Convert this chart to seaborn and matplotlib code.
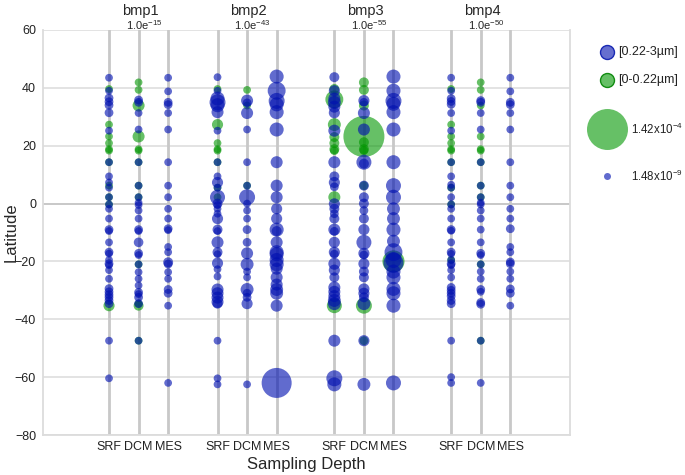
import numpy as np
import pandas as pd
import matplotlib
matplotlib.use("Agg")
import matplotlib.pyplot as plt
from matplotlib.colors import LogNorm
import seaborn as sns

# ---------------- data ----------------
panels = ["bmp1", "bmp2", "bmp3", "bmp4"]
p_exponents = [-15, -43, -55, -50]
depths = ["SRF", "DCM", "MES"]
fractions = ["[0.22-3µm]", "[0-0.22µm]"]
UNIT = 1e-9                       # abundances below are given in units of 1e-9
legend_values = [1.42e-4, 1.48e-9]
y_ticks = [60, 40, 20, 0, -20, -40, -60, -80]

bmp1_blue = {
    "SRF": [(43.5, 1.6), (39.0, 1.6), (36.5, 1.8), (35.2, 1.8), (34.0, 1.8), (31.4, 1.8), (25.2, 1.6),
            (14.3, 1.6), (9.4, 1.6), (7.3, 1.6), (5.5, 1.6), (2.2, 1.6), (-0.3, 1.6), (-1.8, 1.6),
            (-5.2, 1.6), (-9.0, 1.8), (-9.5, 1.6), (-13.4, 1.6), (-16.8, 1.8), (-17.3, 1.6), (-19.5, 1.6),
            (-20.8, 1.8), (-21.3, 1.6), (-23.0, 1.6), (-26.0, 1.6), (-29.4, 1.8), (-30.5, 1.8), (-31.5, 1.8),
            (-32.4, 1.8), (-33.5, 1.8), (-34.6, 1.8), (-47.4, 1.6), (-60.4, 1.6)],
    "DCM": [(35.8, 1.8), (35.0, 1.8), (31.3, 1.6), (25.6, 1.6), (14.3, 1.6), (6.2, 1.6), (2.2, 1.6),
            (0.3, 1.6), (-0.5, 1.6), (-2.4, 1.6), (-5.2, 1.6), (-9.0, 1.8), (-9.5, 1.6), (-13.4, 2.0),
            (-17.2, 1.8), (-17.8, 1.6), (-21.0, 1.6), (-23.7, 1.6), (-26.0, 1.6), (-28.3, 1.6), (-30.7, 1.8),
            (-31.3, 1.6), (-32.4, 1.8), (-34.6, 1.8), (-47.4, 1.6)],
    "MES": [(43.5, 1.6), (38.8, 1.6), (35.0, 1.8), (34.2, 1.8), (31.3, 1.6), (25.6, 1.6), (14.3, 1.6),
            (6.2, 1.6), (2.2, 1.6), (-1.8, 1.6), (-5.2, 1.6), (-8.7, 1.8), (-9.2, 1.6), (-15.0, 1.6),
            (-16.8, 1.6), (-20.3, 2.1), (-20.9, 1.8), (-23.7, 1.6), (-26.0, 1.6), (-29.7, 1.8), (-31.0, 1.8),
            (-35.3, 1.6), (-62.0, 1.6)],
}
bmp1_green = {
    "SRF": [(39.6, 1.6), (27.3, 1.6), (23.2, 1.6), (20.9, 1.6), (18.8, 1.6), (18.3, 1.6), (14.3, 1.6),
            (6.2, 1.6), (2.2, 1.6), (-0.3, 1.6), (-35.3, 2.5)],
    "DCM": [(41.9, 1.6), (39.3, 1.6), (33.9, 2.9), (23.2, 2.9), (18.8, 1.6), (18.3, 1.6), (14.3, 1.6),
            (6.2, 1.6), (2.2, 1.6), (-21.0, 1.6), (-34.6, 1.6), (-35.3, 2.1), (-47.4, 1.6)],
    "MES": [],
}

bmp2_blue = {
    "SRF": [(43.7, 1.6), (39.0, 1.6), (36.3, 4.2), (35.0, 6.3), (34.0, 4.2), (31.6, 2.9), (25.2, 1.6),
            (14.3, 1.6), (9.4, 1.6), (7.3, 2.5), (5.5, 1.6), (2.2, 5.1), (0.0, 2.1), (-0.5, 1.6), (-1.8, 1.6),
            (-3.5, 1.6), (-5.2, 2.5), (-9.0, 2.1), (-9.5, 1.6), (-13.4, 2.9), (-16.8, 2.1), (-17.5, 1.6),
            (-20.6, 2.5), (-22.7, 1.6), (-25.2, 1.6), (-29.7, 2.9), (-31.0, 2.9), (-32.5, 2.9), (-34.0, 2.9),
            (-34.6, 2.1), (-47.4, 1.6), (-60.4, 1.6), (-62.5, 1.6)],
    "DCM": [(35.6, 2.9), (34.8, 1.8), (31.3, 2.9), (25.6, 1.6), (14.3, 1.6), (6.2, 1.6), (2.2, 6.3),
            (0.0, 1.6), (-2.4, 1.6), (-5.2, 1.6), (-9.0, 1.8), (-13.4, 1.8), (-17.2, 2.9), (-21.0, 3.4),
            (-23.5, 1.6), (-25.5, 1.6), (-29.7, 3.4), (-31.0, 1.8), (-32.4, 1.8), (-34.6, 2.5), (-62.5, 1.6)],
    "MES": [(43.9, 4.2), (39.0, 10.0), (35.5, 6.3), (34.3, 4.2), (31.6, 4.2), (25.6, 4.2), (14.3, 2.9),
            (6.2, 2.9), (2.2, 2.9), (-1.8, 2.5), (-5.2, 2.5), (-9.0, 4.2), (-9.5, 2.1), (-13.4, 2.9),
            (-16.8, 4.2), (-17.5, 4.2), (-19.5, 4.2), (-21.0, 4.2), (-22.5, 2.9), (-25.5, 2.9), (-28.0, 2.9),
            (-29.7, 3.4), (-31.0, 3.4), (-35.3, 2.9), (-62.0, 590.0)],
}
bmp2_green = {
    "SRF": [(39.6, 1.6), (27.3, 2.5), (20.9, 1.6), (18.8, 1.6), (18.3, 1.6), (14.3, 1.6), (5.5, 1.6),
            (2.2, 1.6)],
    "DCM": [(39.3, 1.6), (33.9, 1.6), (6.2, 1.6)],
    "MES": [],
}

bmp3_blue = {
    "SRF": [(43.7, 2.1), (39.0, 2.5), (36.3, 2.9), (35.0, 3.4), (33.5, 2.9), (31.4, 2.5), (25.2, 2.9),
            (14.3, 2.9), (9.4, 2.1), (7.3, 2.5), (5.8, 1.8), (-0.1, 2.5), (-1.8, 2.1), (-3.5, 1.8),
            (-5.2, 2.1), (-9.0, 2.9), (-9.6, 1.8), (-13.4, 2.5), (-16.8, 2.5), (-17.5, 1.8), (-20.8, 2.9),
            (-23.0, 2.5), (-25.5, 2.1), (-29.0, 2.9), (-30.5, 2.9), (-32.0, 2.9), (-33.5, 3.4), (-34.6, 3.4),
            (-47.4, 2.9), (-60.4, 6.3), (-62.5, 4.2)],
    "DCM": [(35.6, 2.5), (35.0, 1.8), (31.3, 2.9), (25.6, 2.9), (14.3, 5.1), (13.8, 2.1), (6.2, 2.1),
            (2.2, 2.1), (0.0, 2.1), (-2.4, 1.8), (-5.2, 2.1), (-9.0, 2.5), (-13.4, 5.1), (-17.2, 2.5),
            (-17.8, 1.8), (-20.8, 2.5), (-23.5, 2.1), (-25.5, 2.1), (-29.5, 2.5), (-31.0, 2.5), (-32.4, 2.1),
            (-34.6, 3.4), (-47.4, 2.5), (-62.5, 3.4)],
    "MES": [(43.9, 4.2), (39.0, 4.2), (35.5, 6.3), (34.5, 4.2), (31.6, 4.2), (25.6, 4.2), (14.3, 4.2),
            (6.2, 5.1), (2.2, 5.1), (-1.8, 3.4), (-5.2, 3.4), (-9.0, 4.2), (-13.0, 3.4), (-16.8, 10.0),
            (-19.5, 6.3), (-20.5, 17.0), (-23.5, 4.2), (-25.5, 4.2), (-29.5, 4.2), (-31.0, 4.2), (-35.3, 4.2),
            (-62.0, 5.1)],
}
bmp3_green = {
    "SRF": [(39.6, 2.1), (36.0, 10.0), (27.3, 3.4), (23.0, 2.1), (20.9, 2.1), (18.8, 2.1), (18.3, 1.8),
            (2.2, 2.9), (-35.3, 5.1)],
    "DCM": [(41.9, 2.1), (39.3, 2.1), (33.9, 2.1), (23.2, 142000.0), (21.2, 2.1), (18.8, 2.1), (18.3, 1.8),
            (6.2, 1.8), (-35.3, 6.3), (-47.4, 1.8)],
    "MES": [(-20.0, 32.0)],
}

bmp4_blue = {
    "SRF": [(43.5, 1.6), (39.0, 1.6), (36.3, 1.8), (35.3, 1.8), (34.3, 1.8), (31.3, 1.6), (25.2, 1.6),
            (14.3, 1.6), (9.4, 1.6), (6.5, 1.6), (5.5, 1.6), (2.2, 1.6), (-0.3, 1.6), (-1.8, 1.6), (-5.2, 1.6),
            (-9.0, 1.8), (-9.4, 1.6), (-13.4, 1.6), (-16.8, 1.8), (-17.4, 1.6), (-19.5, 1.6), (-20.8, 1.8),
            (-21.3, 1.6), (-23.0, 1.6), (-25.5, 1.6), (-29.0, 1.8), (-30.0, 1.8), (-31.0, 1.8), (-32.0, 1.8),
            (-33.5, 1.8), (-34.6, 1.8), (-47.4, 1.6), (-60.0, 1.6), (-62.0, 1.6)],
    "DCM": [(35.6, 1.8), (35.0, 1.8), (31.3, 1.6), (25.6, 1.6), (14.3, 1.6), (6.2, 1.6), (2.2, 1.6),
            (0.3, 1.6), (-0.3, 1.6), (-2.4, 1.6), (-5.2, 1.6), (-9.0, 1.6), (-13.4, 1.6), (-17.2, 1.8),
            (-17.8, 1.6), (-21.0, 1.6), (-23.5, 1.6), (-26.0, 1.6), (-29.7, 1.8), (-30.5, 1.6), (-34.2, 1.8),
            (-34.8, 1.8), (-47.4, 1.6), (-62.0, 1.6)],
    "MES": [(43.5, 1.6), (38.8, 1.6), (35.0, 1.8), (34.2, 1.8), (31.3, 1.6), (25.6, 1.6), (14.3, 1.6),
            (6.2, 1.6), (2.2, 1.6), (-1.8, 1.6), (-5.2, 1.6), (-8.7, 1.8), (-15.0, 1.6), (-16.8, 1.6),
            (-20.2, 1.8), (-20.8, 1.8), (-23.5, 1.6), (-26.0, 1.6), (-29.5, 1.8), (-31.0, 1.8), (-35.3, 1.6)],
}
bmp4_green = {
    "SRF": [(39.6, 1.6), (27.3, 1.6), (23.2, 1.6), (20.9, 1.6), (18.8, 1.6), (18.3, 1.6), (14.3, 1.6),
            (5.5, 1.6), (-0.3, 1.6), (-19.5, 1.6)],
    "DCM": [(41.9, 1.6), (39.3, 1.6), (33.9, 1.6), (23.2, 1.6), (18.8, 1.6), (18.3, 1.6), (14.3, 1.6),
            (6.2, 1.6), (2.2, 1.6), (-21.0, 1.6), (-47.4, 1.6)],
    "MES": [],
}

blue_data = [bmp1_blue, bmp2_blue, bmp3_blue, bmp4_blue]
green_data = [bmp1_green, bmp2_green, bmp3_green, bmp4_green]

# ---------------- layout / style ----------------
group_offsets = [0.0, 3.78, 7.85, 11.92]
depth_step = 1.03
BLUE = "#0010b0"
GREEN = "#009600"
size_range = (25.4, 871.0)        # marker areas (pt^2) for min / max abundance
size_norm = LogNorm(vmin=legend_values[1], vmax=legend_values[0])

rows = []
for gi, panel in enumerate(panels):
    for frac, src in ((fractions[0], blue_data[gi]), (fractions[1], green_data[gi])):
        for di, depth in enumerate(depths):
            for lat, v in src[depth]:
                rows.append(dict(panel=panel, depth=depth, fraction=frac,
                                 x=group_offsets[gi] + di * depth_step, lat=lat, abundance=v * UNIT))
df = pd.DataFrame(rows)

sns.set_style("white")
plt.rcParams["font.family"] = ["Liberation Sans", "DejaVu Sans"]
plt.rcParams["mathtext.fontset"] = "custom"
plt.rcParams["mathtext.rm"] = "Liberation Sans"
plt.rcParams["mathtext.it"] = "Liberation Sans"
plt.rcParams["mathtext.default"] = "regular"

W, H = 685, 475
fig = plt.figure(figsize=(W / 100, H / 100), dpi=100)
L, R, T, B = 43, 570, 30, 435
ax = fig.add_axes([L / W, 1 - B / H, (R - L) / W, (B - T) / H])

col_x = [group_offsets[g] + d * depth_step for g in range(len(panels)) for d in range(len(depths))]

ax.set_xlim(-2.30, 16.06)
ax.set_ylim(-80, 60)
ax.set_yticks(y_ticks)
ax.set_xticks(col_x)
ax.set_xticklabels(depths * len(panels))
ax.tick_params(axis="both", length=0, labelsize=9, colors="#222222")
ax.tick_params(axis="y", pad=5)
ax.tick_params(axis="x", pad=4)

for yv in y_ticks:
    ax.axhline(yv, color="#c4c4c4" if yv == 0 else "#e0e0e0", lw=1.3, zorder=0.5)
for xv in col_x:
    ax.axvline(xv, color="#c8c8c8", lw=2.0, zorder=1)
for side in ["left", "bottom", "right"]:
    ax.spines[side].set_color("#dcdcdc")
    ax.spines[side].set_linewidth(1.3)
ax.spines["top"].set_visible(False)

for frac, color, alpha in ((fractions[1], GREEN, 0.6), (fractions[0], BLUE, 0.62)):
    sns.scatterplot(data=df[df.fraction == frac], x="x", y="lat", size="abundance",
                    sizes=size_range, size_norm=size_norm, color=color, alpha=alpha,
                    linewidth=0, legend=False, ax=ax, zorder=3)

ax.set_xlabel("Sampling Depth", fontsize=12, labelpad=3)
ax.set_ylabel("Latitude", fontsize=12, labelpad=-3)

for gi, panel in enumerate(panels):
    xc = group_offsets[gi] + depth_step
    ax.annotate(panel, xy=(xc, 1), xycoords=("data", "axes fraction"), xytext=(1, 13.5),
                textcoords="offset points", ha="center", va="center", fontsize=10.5)
    ax.annotate(r"1.0e$^{%d}$" % p_exponents[gi], xy=(xc, 1), xycoords=("data", "axes fraction"),
                xytext=(4, 3.5), textcoords="offset points", ha="center", va="center", fontsize=8)

# ---------------- legend ----------------
lax = fig.add_axes([575 / W, 1 - 200 / H, 110 / W, 170 / H])
lax.set_xlim(575, 685)
lax.set_ylim(200, 30)
lax.axis("off")


def area(v):
    return size_range[0] + float(size_norm(v)) * (size_range[1] - size_range[0])


lax.scatter([607], [52], s=101, facecolor=matplotlib.colors.to_rgba(BLUE, 0.6), edgecolor="#1a2ab4", lw=1.0)
lax.text(618, 52, fractions[0], va="center", ha="left", fontsize=9, color="#222222")
lax.scatter([607], [80], s=101, facecolor=matplotlib.colors.to_rgba(GREEN, 0.6), edgecolor="#128c12", lw=1.0)
lax.text(618, 80, fractions[1], va="center", ha="left", fontsize=9, color="#222222")
lax.scatter([607], [129], s=area(legend_values[0]), color=GREEN, alpha=0.6, lw=0)
lax.text(631, 129, r"1.42x10$^{-4}$", va="center", ha="left", fontsize=8.3, color="#222222")
lax.scatter([607], [176], s=area(legend_values[1]), color=BLUE, alpha=0.62, lw=0)
lax.text(631, 176, r"1.48x10$^{-9}$", va="center", ha="left", fontsize=8.3, color="#222222")

fig.savefig("out.png", dpi=100)
